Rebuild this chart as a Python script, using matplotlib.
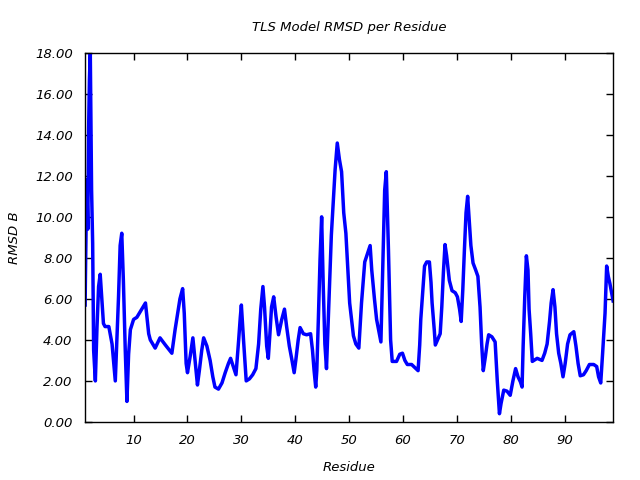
import matplotlib
matplotlib.use("Agg")
import matplotlib.pyplot as plt
import numpy as np
from matplotlib.ticker import FormatStrFormatter, MultipleLocator

# values
residue = [1.0, 1.05, 1.3, 1.5, 1.65, 1.8, 1.96, 2.2, 2.4, 2.58, 2.9, 3.2, 3.5, 3.8, 4.1, 4.4, 4.7,
           5.4, 6.0, 6.3, 6.6, 6.9, 7.2, 7.5, 7.8, 8.1, 8.45, 8.76, 9.07, 9.4, 10.0, 10.6,
           12.2, 12.8, 13.1, 14.0, 14.9, 15.9, 17.1, 17.7, 18.6, 19.1, 19.4, 19.75, 20.0,
           20.5, 21.0, 21.4, 21.85, 22.2, 22.65, 23.0, 23.6, 24.2, 24.7, 25.1, 25.75, 26.4,
           27.0, 27.6, 28.0, 28.5, 29.0, 29.5, 29.8, 30.0, 30.4, 30.9, 31.5, 32.1, 32.7,
           33.2, 33.6, 34.0, 34.3, 34.7, 35.0, 35.3, 35.6, 36.0, 36.45, 36.9, 37.5, 38.0,
           38.4, 38.9, 39.4, 39.8, 40.1, 40.55, 40.9, 41.5, 42.1, 42.85, 43.2, 43.5, 43.8,
           44.0, 44.3, 44.6, 44.9, 45.2, 45.5, 45.8, 46.1, 46.4, 46.7, 47.05, 47.4, 47.8,
           48.2, 48.6, 49.0, 49.4, 49.8, 50.1, 50.8, 51.25, 51.8, 52.3, 52.9, 53.4, 53.9,
           54.2, 54.7, 55.1, 55.6, 55.9, 56.3, 56.6, 56.9, 57.3, 57.7, 58.0, 58.8, 59.4,
           59.9, 60.35, 60.8, 61.6, 62.4, 62.8, 63.1, 63.3, 63.7, 64.0, 64.4, 64.9, 65.2,
           65.4, 65.8, 66.0, 66.4, 66.9, 67.2, 67.5, 67.8, 68.1, 68.6, 69.1, 69.7, 70.1,
           70.5, 70.8, 71.1, 71.4, 71.7, 72.0, 72.3, 72.6, 73.0, 73.5, 73.9, 74.3, 74.6,
           74.9, 75.3, 75.6, 75.9, 76.5, 77.1, 77.5, 77.9, 78.2, 78.7, 79.3, 79.9, 80.4,
           80.9, 81.35, 81.8, 82.1, 82.3, 82.6, 82.9, 83.2, 83.4, 83.7, 84.0, 84.3, 84.9,
           85.8, 86.3, 86.75, 87.2, 87.5, 87.85, 88.2, 88.5, 88.9, 89.3, 89.7, 90.1, 90.55,
           91.0, 91.7, 92.1, 92.5, 92.9, 93.5, 94.0, 94.6, 95.4, 95.95, 96.3, 96.7, 97.05,
           97.5, 97.8, 98.1, 98.4, 99.0]
rmsd_b = [5.7, 6.9, 11.8, 9.4, 14.3, 16.7, 18.0, 11.3, 8.7, 3.5, 2.0, 4.6, 6.6, 7.2, 6.0, 4.8, 4.65,
          4.65, 3.8, 2.9, 2.0, 4.0, 6.1, 8.6, 9.2, 6.9, 3.5, 1.0, 3.3, 4.5, 5.0, 5.1,
          5.8, 4.3, 4.0, 3.6, 4.1, 3.75, 3.35, 4.5, 6.0, 6.5, 5.3, 2.85, 2.4,
          3.2, 4.1, 3.0, 1.8, 2.5, 3.5, 4.1, 3.7, 3.0, 2.2, 1.7, 1.6, 1.9,
          2.4, 2.85, 3.1, 2.7, 2.3, 4.0, 5.1, 5.7, 4.0, 2.0, 2.1, 2.3, 2.6,
          3.8, 5.5, 6.6, 5.6, 3.7, 3.1, 4.3, 5.6, 6.1, 5.1, 4.25, 5.0, 5.5,
          4.65, 3.7, 3.0, 2.4, 3.0, 4.0, 4.6, 4.3, 4.25, 4.3, 3.5, 2.5, 1.7,
          2.5, 5.1, 7.9, 10.0, 6.6, 3.8, 2.6, 4.8, 6.9, 9.1, 10.7, 12.3, 13.6,
          12.8, 12.2, 10.2, 9.2, 7.3, 5.8, 4.2, 3.8, 3.6, 5.8, 7.8, 8.2, 8.6,
          7.4, 6.0, 5.0, 4.3, 3.9, 8.2, 11.3, 12.2, 8.4, 4.0, 2.95, 2.95, 3.3,
          3.35, 3.0, 2.8, 2.8, 2.6, 2.5, 3.75, 5.0, 6.45, 7.6, 7.8, 7.8, 6.8,
          5.8, 4.5, 3.75, 4.0, 4.3, 5.6, 7.3, 8.65, 8.1, 6.9, 6.4, 6.3, 6.1,
          5.5, 4.9, 6.45, 8.4, 10.2, 11.0, 9.8, 8.6, 7.75, 7.4, 7.1, 5.6, 3.8,
          2.5, 3.2, 3.8, 4.25, 4.15, 3.9, 2.0, 0.4, 0.9, 1.55, 1.5, 1.3, 2.0,
          2.6, 2.2, 1.95, 1.7, 3.7, 6.1, 8.1, 7.4, 5.5, 4.3, 2.95, 3.0, 3.1,
          3.0, 3.35, 3.8, 4.9, 5.8, 6.45, 5.6, 4.3, 3.35, 2.85, 2.2, 2.85, 3.8,
          4.25, 4.4, 3.7, 2.85, 2.25, 2.3, 2.5, 2.8, 2.8, 2.7, 2.2, 1.9, 3.35,
          5.3, 7.6, 7.1, 6.75, 5.9]

plt.rcParams['font.family'] = ['DejaVu Sans']
plt.rcParams['font.style'] = 'italic'
plt.rcParams['font.size'] = 9

fig = plt.figure(figsize=(6.4, 4.8), dpi=100)
ax = fig.add_axes([0.133, 0.121, 0.825, 0.769])

ax.plot(residue, rmsd_b, color='#0000ff', linewidth=2.5)

ax.set_xlim(1, 99)
ax.set_ylim(0, 18)
ax.xaxis.set_major_locator(MultipleLocator(10))
ax.yaxis.set_major_locator(MultipleLocator(2))
ax.yaxis.set_major_formatter(FormatStrFormatter('%.2f'))
ax.tick_params(direction='in', top=True, right=True, length=5, width=1, pad=9, labelsize=9.5)

for s in ax.spines.values():
    s.set_linewidth(1)

ax.set_title('TLS Model RMSD per Residue', fontsize=9.5, pad=16)
ax.set_xlabel('Residue', fontsize=9.5, labelpad=10)
ax.set_ylabel('RMSD B', fontsize=9.5, labelpad=10)

fig.savefig('out.png', dpi=100)
